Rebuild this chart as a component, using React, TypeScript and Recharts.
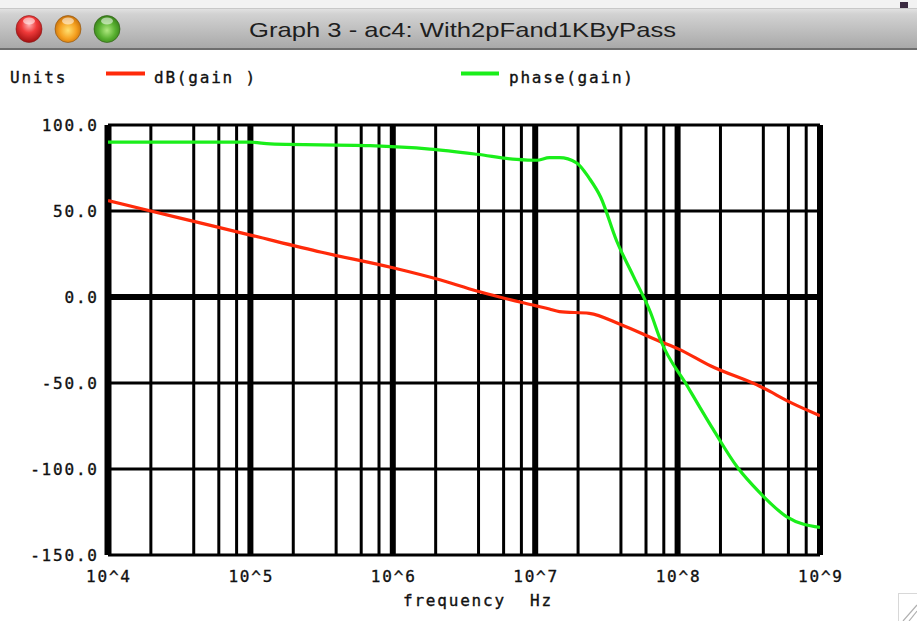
import React from 'react';
import { LineChart, Line, XAxis, YAxis, ReferenceLine } from 'recharts';

// log10(frequency) sample points and values
const dbExponents = [4, 4.5, 5, 5.5, 6, 6.33, 6.59, 6.75, 7, 7.1, 7.17, 7.38, 7.6, 7.88, 8, 8.23, 8.58, 8.81, 9];
const dbGain = [56, 46, 36, 26, 17, 10, 3.5, 0, -5, -7, -8.5, -9.5, -16, -26, -30, -40, -52, -62, -69];

const phaseExponents = [4, 5, 5.14, 5.84, 6.26, 6.59, 6.87, 7.01, 7.1, 7.17, 7.29, 7.38, 7.46, 7.57, 7.69, 7.81, 7.88, 8.07, 8.25, 8.42, 8.58, 8.77, 9];
const phaseGain = [90, 90, 89, 88, 86, 83, 80, 79.5, 81, 81, 78, 69, 58, 33, 12, -9, -25, -52, -77, -99, -114, -128, -134];

const decadeTicks = [1e4, 1e5, 1e6, 1e7, 1e8, 1e9];
const minorMultipliers = [2, 4, 6, 8];
const yTicks = [-150, -100, -50, 0, 50, 100];
const yMinorLines = [50, -50, -100];

const dbData = dbExponents.map((e, i) => ({ f: Math.pow(10, e), v: dbGain[i] }));
const phaseData = phaseExponents.map((e, i) => ({ f: Math.pow(10, e), v: phaseGain[i] }));

const minorX: number[] = [];
for (let d = 4; d < 9; d++) {
  for (const m of minorMultipliers) minorX.push(m * Math.pow(10, d));
}

const MONO = '"DejaVu Sans Mono", "Liberation Mono", monospace';
const LS = 1.8;
const RED = '#ff2a0a';
const GREEN = '#1aee1a';
const TXT = { fontFamily: MONO, fontSize: 16, letterSpacing: LS, fill: '#111', stroke: '#111', strokeWidth: 0.35 };

const YTick = (props: any) => {
  const { x, y, payload } = props;
  return (
    <text x={x + LS} y={y + 6} textAnchor="end" {...TXT}>
      {Number(payload.value).toFixed(1)}
    </text>
  );
};

const XTick = (props: any) => {
  const { x, y, payload } = props;
  const exp = Math.round(Math.log10(payload.value));
  return (
    <text x={x + LS / 2} y={y + 27} textAnchor="middle" {...TXT}>
      {`10^${exp}`}
    </text>
  );
};

const TitleBar = () => (
  <svg width={917} height={52} style={{ position: 'absolute', left: 0, top: 0 }}>
    <defs>
      <linearGradient id="tb" x1="0" y1="0" x2="0" y2="1">
        <stop offset="0" stopColor="#e4e4e4" />
        <stop offset="0.15" stopColor="#d2d2d2" />
        <stop offset="1" stopColor="#a9a9a9" />
      </linearGradient>
      <radialGradient id="lr" cx="0.5" cy="0.35" r="0.65">
        <stop offset="0" stopColor="#ffb0b0" />
        <stop offset="0.45" stopColor="#f03a3a" />
        <stop offset="1" stopColor="#a01010" />
      </radialGradient>
      <radialGradient id="lo" cx="0.5" cy="0.55" r="0.65">
        <stop offset="0" stopColor="#ffe070" />
        <stop offset="0.5" stopColor="#f5a020" />
        <stop offset="1" stopColor="#b05a00" />
      </radialGradient>
      <radialGradient id="lg" cx="0.5" cy="0.55" r="0.65">
        <stop offset="0" stopColor="#b0e880" />
        <stop offset="0.5" stopColor="#58b030" />
        <stop offset="1" stopColor="#2a6a10" />
      </radialGradient>
    </defs>
    <rect x={0} y={0} width={917} height={8} fill="#f2f2f2" />
    <rect x={0} y={8} width={917} height={40} fill="url(#tb)" />
    <rect x={0} y={8} width={917} height={1} fill="#c8c8c8" />
    <rect x={0} y={48} width={917} height={2} fill="#6e6e6e" />
    <rect x={900} y={2} width={8} height={6} fill="#3a2a40" />
    <ellipse cx={29} cy={29} rx={13} ry={13.5} fill="url(#lr)" stroke="#8a1a1a" strokeWidth={0.6} />
    <ellipse cx={68} cy={29} rx={13} ry={13.5} fill="url(#lo)" stroke="#8a5010" strokeWidth={0.6} />
    <ellipse cx={107} cy={29} rx={13} ry={13.5} fill="url(#lg)" stroke="#2a5a10" strokeWidth={0.6} />
    <ellipse cx={29} cy={21} rx={6} ry={3.5} fill="#ffffff" opacity={0.55} />
    <ellipse cx={68} cy={21} rx={6} ry={3.5} fill="#ffffff" opacity={0.55} />
    <ellipse cx={107} cy={21} rx={6} ry={3.5} fill="#ffffff" opacity={0.55} />
    <text x={249} y={37} textLength={427} lengthAdjust="spacingAndGlyphs" fontFamily='"Liberation Sans", "DejaVu Sans", sans-serif' fontSize={21} fill="#1e1e1e">
      Graph 3 - ac4: With2pFand1KByPass
    </text>
  </svg>
);

const LegendBar = () => (
  <svg width={917} height={40} style={{ position: 'absolute', left: 0, top: 60 }}>
    <text x={10} y={23} {...TXT}>Units</text>
    <line x1={106} x2={145} y1={13.5} y2={13.5} stroke={RED} strokeWidth={4} />
    <text x={154} y={23} {...TXT} style={{ whiteSpace: 'pre' }}>dB(gain )</text>
    <line x1={461} x2={499} y1={13.5} y2={13.5} stroke={GREEN} strokeWidth={4} />
    <text x={509} y={23} {...TXT}>phase(gain)</text>
  </svg>
);

const Footer = () => (
  <svg width={917} height={621} style={{ position: 'absolute', left: 0, top: 0, pointerEvents: 'none' }}>
    <text x={403} y={606} {...TXT}>frequency</text>
    <text x={530} y={606} {...TXT}>Hz</text>
    <rect x={898.5} y={593.5} width={20} height={30} fill="none" stroke="#d8d8d8" strokeWidth={1} />
    <line x1={903} y1={621} x2={917} y2={605} stroke="#b0b0b0" strokeWidth={1.2} />
    <line x1={909} y1={621} x2={917} y2={611} stroke="#b0b0b0" strokeWidth={1.2} />
  </svg>
);

export default function App() {
  return (
    <div style={{ position: 'absolute', left: 0, top: 0, width: 917, height: 621, background: '#ffffff', overflow: 'hidden' }}>
      <TitleBar />
      <LegendBar />
      <div style={{ position: 'absolute', left: 0, top: 0 }}>
        <LineChart width={917} height={621} margin={{ top: 125, right: 97, bottom: 26, left: 8 }}>
          <XAxis
            type="number"
            dataKey="f"
            scale="log"
            domain={[1e4, 1e9]}
            allowDataOverflow
            ticks={decadeTicks}
            axisLine={false}
            tickLine={false}
            tickSize={0}
            tickMargin={0}
            height={40}
            tick={XTick}
            interval={0}
          />
          <YAxis
            type="number"
            domain={[-150, 100]}
            ticks={yTicks}
            axisLine={false}
            tickLine={false}
            tickSize={0}
            tickMargin={11}
            width={100}
            tick={YTick}
            interval={0}
            allowDataOverflow
          />
          {minorX.map((x) => (
            <ReferenceLine key={`mx${x}`} x={x} stroke="#000" strokeWidth={3} />
          ))}
          {decadeTicks.slice(1, 5).map((x) => (
            <ReferenceLine key={`dx${x}`} x={x} stroke="#000" strokeWidth={6} />
          ))}
          {yMinorLines.map((y) => (
            <ReferenceLine key={`my${y}`} y={y} stroke="#000" strokeWidth={3} />
          ))}
          <ReferenceLine y={0} stroke="#000" strokeWidth={6} />
          <ReferenceLine y={100} stroke="#000" strokeWidth={3} />
          <ReferenceLine y={-150} stroke="#000" strokeWidth={3} />
          <ReferenceLine x={1e4} stroke="#000" strokeWidth={7} />
          <ReferenceLine x={1e9} stroke="#000" strokeWidth={6} />
          <Line data={dbData} dataKey="v" type="monotone" stroke={RED} strokeWidth={3.2} dot={false} isAnimationActive={false} />
          <Line data={phaseData} dataKey="v" type="monotone" stroke={GREEN} strokeWidth={3.2} dot={false} isAnimationActive={false} />
        </LineChart>
      </div>
      <Footer />
    </div>
  );
}
